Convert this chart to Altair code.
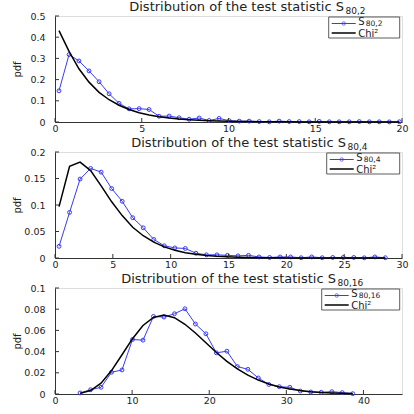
import altair as alt
import pandas as pd

# ---- data ----
x1 = [0.23, 0.81, 1.38, 1.96, 2.54, 3.12, 3.69, 4.27, 4.85, 5.42, 6.00, 6.58, 7.15, 7.73,
      8.31, 8.88, 9.46, 10.04, 10.62, 11.19, 11.77, 12.35, 12.92, 13.50, 14.08, 14.65,
      15.23, 15.81, 16.38, 16.96, 17.54, 18.12, 18.69, 19.27, 19.85]
s1 = [0.147, 0.318, 0.288, 0.241, 0.190, 0.133, 0.088, 0.062, 0.063, 0.059,
      0.027, 0.028, 0.020, 0.013, 0.019, 0.007, 0.017, 0.006, 0.004, 0.004,
      0.002, 0.001, 0.004, 0.002, 0.002, 0.001, 0.003, 0.001, 0.001, 0.001,
      0.002, 0.001, 0.001, 0.0005, 0.001]
c1 = [0.431, 0.333, 0.251, 0.188, 0.140, 0.105, 0.079, 0.059, 0.044, 0.033,
      0.025, 0.0186, 0.014, 0.0105, 0.0078, 0.0059, 0.0044, 0.0033, 0.0025, 0.0019,
      0.0014, 0.0010, 0.0008, 0.0006, 0.0004, 0.0003, 0.0002, 0.0002, 0.0001, 0.0001,
      0.0001, 0.0001, 0.0, 0.0, 0.0]

x2 = [0.35, 1.26, 2.17, 3.08, 3.99, 4.90, 5.81, 6.72, 7.63, 8.54, 9.45, 10.36, 11.27,
      12.18, 13.09, 14.00, 14.91, 15.82, 16.73, 17.64, 18.55, 19.46, 20.37, 21.28,
      22.19, 23.10, 24.01, 24.92, 25.83, 26.74, 27.65, 28.56]
s2 = [0.022, 0.086, 0.149, 0.169, 0.162, 0.131, 0.107, 0.076, 0.057, 0.035,
      0.023, 0.019, 0.018, 0.009, 0.006, 0.006, 0.005, 0.004, 0.005, 0.002,
      0.001, 0.002, 0.002, 0.0005, 0.002, 0.0005, 0.001, 0.001, 0.001, 0.0003,
      0.002, 0.0005]
c2 = [0.097, 0.173, 0.181, 0.165, 0.136, 0.106, 0.080, 0.058, 0.042, 0.030,
      0.021, 0.0146, 0.0101, 0.0069, 0.0047, 0.0032, 0.0022, 0.0015, 0.0010, 0.0007,
      0.0005, 0.0003, 0.0002, 0.0001, 0.0001, 0.0001, 0.0, 0.0, 0.0, 0.0,
      0.0, 0.0]

x3 = [3.25, 4.61, 5.97, 7.33, 8.69, 10.05, 11.41, 12.77, 14.13, 15.49, 16.85, 18.21,
      19.57, 20.93, 22.29, 23.65, 25.01, 26.37, 27.73, 29.09, 30.45, 31.81, 33.17,
      34.53, 35.89, 37.25, 38.61]
s3 = [0.001, 0.004, 0.0063, 0.0205, 0.0227, 0.0514, 0.0508, 0.0732, 0.0726, 0.0757,
      0.0804, 0.066, 0.0568, 0.0388, 0.0404, 0.0259, 0.0233, 0.0151, 0.009, 0.0069,
      0.0063, 0.0028, 0.0019, 0.0016, 0.0022, 0.0013, 0.0003]
c3 = [0.0006, 0.0033, 0.0102, 0.0221, 0.0370, 0.0522, 0.0646, 0.0722, 0.0745, 0.0720,
      0.0658, 0.0575, 0.0483, 0.0392, 0.0308, 0.0237, 0.0178, 0.0131, 0.0094, 0.0067,
      0.0047, 0.0032, 0.0022, 0.0015, 0.0010, 0.0007, 0.0004]

xticks1 = [0, 5, 10, 15, 20]
xticks2 = [0, 5, 10, 15, 20, 25, 30]
xticks3 = [0, 10, 20, 30, 40]
yticks1 = [0, 0.1, 0.2, 0.3, 0.4, 0.5]
yticks2 = [0, 0.05, 0.1, 0.15, 0.2]
yticks3 = [0, 0.02, 0.04, 0.06, 0.08, 0.1]

title_main = "Distribution of the test statistic S"
subs = ["80,2", "80,4", "80,16"]
chi_label = "Chi²"

FONT = "DejaVu Sans"
BLUE = "#3a3af2"
AXC = "#333333"
TXT = "#222222"
W, H = 347, 106
FMT = ".3~g"


def panel(xs, s, c, xmax, xticks, ymax, yticks, sub, title_right, leg_left):
    df = pd.DataFrame({"x": xs, "s": s, "c": c})
    xsc = alt.Scale(domain=[0, xmax], nice=False, zero=False)
    ysc = alt.Scale(domain=[0, ymax], nice=False)
    xax = alt.Axis(values=xticks, format=FMT, ticks=False, grid=False, title=None,
                   labelFont=FONT, labelFontSize=9.5, labelColor=TXT, labelPadding=1,
                   domainColor=AXC, domainWidth=1, labelFlush=False, labelOverlap=False)
    yax = alt.Axis(values=yticks, format=FMT, ticks=False, grid=False, title="pdf",
                   labelFont=FONT, labelFontSize=9.5, labelColor=TXT, labelPadding=10,
                   domainColor=AXC, domainWidth=1, labelFlush=False, labelOverlap=False,
                   titleFont=FONT, titleFontSize=10, titleFontWeight="normal",
                   titleColor=TXT, titleX=-38, titleY=H / 2, titleAlign="center",
                   titleBaseline="middle")
    X = lambda f: alt.X(f, scale=xsc, axis=xax)
    Y = lambda f: alt.Y(f, scale=ysc, axis=yax)
    base = alt.Chart(df)
    blue = base.mark_line(
        color=BLUE, strokeWidth=1,
        point=alt.OverlayMarkDef(filled=False, size=15, color=BLUE, strokeWidth=1)
    ).encode(x=X("x:Q"), y=Y("s:Q"))
    blk = base.mark_line(color="black", strokeWidth=1.5).encode(x=X("x:Q"), y=Y("c:Q"))

    yt = alt.Chart(pd.DataFrame({"v": yticks})).mark_rule(color=AXC, strokeWidth=1).encode(
        y=Y("v:Q"), x=alt.value(0), x2=alt.value(4))
    xt = alt.Chart(pd.DataFrame({"v": xticks})).mark_rule(color=AXC, strokeWidth=1).encode(
        x=X("v:Q"), y=alt.value(H), y2=alt.value(H - 4))

    one = pd.DataFrame({"a": [0]})
    t1 = alt.Chart(one).mark_text(font=FONT, fontSize=13, align="right", baseline="middle",
                                  color=TXT, text=title_main).encode(
        x=alt.value(title_right), y=alt.value(-9.5))
    t2 = alt.Chart(one).mark_text(font=FONT, fontSize=9, align="left", baseline="middle",
                                  color=TXT, text=sub).encode(
        x=alt.value(title_right + 1.5), y=alt.value(-5.5))

    lr = 344.7
    box = alt.Chart(one).mark_rect(fill="white", stroke=AXC, strokeWidth=0.8).encode(
        x=alt.value(leg_left), x2=alt.value(lr), y=alt.value(1), y2=alt.value(22))
    l1 = alt.Chart(one).mark_rule(color=BLUE, strokeWidth=1).encode(
        x=alt.value(leg_left + 3), x2=alt.value(leg_left + 27), y=alt.value(7.5))
    m1 = alt.Chart(one).mark_point(color=BLUE, filled=False, size=12, strokeWidth=1).encode(
        x=alt.value(leg_left + 15), y=alt.value(7.5))
    l2 = alt.Chart(one).mark_rule(color="black", strokeWidth=1.5).encode(
        x=alt.value(leg_left + 3), x2=alt.value(leg_left + 27), y=alt.value(17))
    ts = alt.Chart(one).mark_text(font=FONT, fontSize=10, align="left", baseline="middle",
                                  color=TXT, text="S").encode(
        x=alt.value(leg_left + 29.5), y=alt.value(5.5))
    tsub = alt.Chart(one).mark_text(font=FONT, fontSize=7.5, align="left", baseline="middle",
                                    color=TXT, text=sub).encode(
        x=alt.value(leg_left + 37), y=alt.value(8))
    tc = alt.Chart(one).mark_text(font=FONT, fontSize=10, align="left", baseline="middle",
                                  color=TXT, text=chi_label).encode(
        x=alt.value(leg_left + 29.5), y=alt.value(17.5))

    return alt.layer(blue, blk, yt, xt, t1, t2, box, l1, m1, l2, ts, tsub, tc).properties(
        width=W, height=H)


p1 = panel(x1, s1, c1, 20, xticks1, 0.5, yticks1, subs[0], 289, 273.7)
p2 = panel(x2, s2, c2, 30, xticks2, 0.2, yticks2, subs[1], 291, 271.7)
p3 = panel(x3, s3, c3, 45, xticks3, 0.1, yticks3, subs[2], 281, 266.7)

chart = alt.vconcat(p1, p2, p3, spacing=30, bounds="flush").properties(
    padding={"left": 11, "top": 0, "right": 0, "bottom": 0}
).configure_view(stroke=None).configure(background="white")

chart.save("out.html", embed_options={"renderer": "svg", "actions": False})
